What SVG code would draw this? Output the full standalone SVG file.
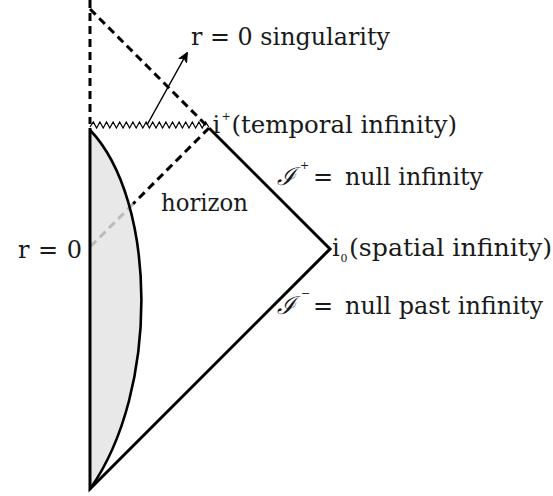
<svg xmlns="http://www.w3.org/2000/svg" width="553" height="496" viewBox="0 0 553 496">
<style>
text{font-family:"DejaVu Serif","Liberation Serif",serif;font-size:24px;fill:#1a1a1a}
.s{font-size:11px}
.solid{fill:none;stroke:#000;stroke-width:3;stroke-linejoin:miter}
.dash{fill:none;stroke:#000;stroke-width:3;stroke-dasharray:8 5}
.gdash{fill:none;stroke:#bbb;stroke-width:3;stroke-dasharray:8 5}
.scr{font-style:italic;font-size:25px}
</style>
<defs>
<marker id="ah" viewBox="0 0 10 10" refX="9" refY="5" markerWidth="10" markerHeight="10" markerUnits="userSpaceOnUse" orient="auto">
<path d="M0,0.5 L10,5 L0,9.5 L3,5 Z" fill="#000" stroke="#000" stroke-width="0.8" stroke-linejoin="round"/>
</marker>
</defs>
<g id="region">
<path d="M90,130 C157,200 160,390 90,489 Z" fill="#e8e8e8" stroke="none"/>
</g>
<g id="connectors">
<line class="dash" x1="90" y1="0" x2="90" y2="124"/>
<line class="dash" x1="90" y1="9" x2="209" y2="128"/>
<line class="dash" x1="209" y1="128" x2="133" y2="204"/>
<line class="gdash" x1="133" y1="204" x2="90" y2="247"/>
<path class="solid" d="M90,128 L90,489 L330,249 L209,128"/>
<path d="M90,130 C157,200 160,390 90,489" fill="none" stroke="#000" stroke-width="2.6"/>
<polyline fill="none" stroke="#000" stroke-width="1.2" points="90,127 93.3,122 96.6,128 99.9,122 103.2,128 106.5,122 109.8,128 113.1,122 116.4,128 119.7,122 123,128 126.3,122 129.6,128 132.9,122 136.2,128 139.5,122 142.8,128 146.1,122 149.4,128 152.7,122 156,128 159.3,122 162.6,128 165.9,122 169.2,128 172.5,122 175.8,128 179.1,122 182.4,128 185.7,122 189,128 192.3,122 195.6,128 198.9,122 202.2,128 205.5,122 208.8,127"/>
<line x1="147" y1="125" x2="187" y2="53" stroke="#000" stroke-width="1.5" marker-end="url(#ah)"/>
</g>
<g id="label-singularity">
<text x="191" y="45" textLength="199" lengthAdjust="spacingAndGlyphs">r = 0 singularity</text>
</g>
<g id="label-iplus">
<text x="212.5" y="133">i</text>
<text class="s" x="221.5" y="120">+</text>
<text x="231.5" y="133" textLength="225.5" lengthAdjust="spacingAndGlyphs">(temporal infinity)</text>
</g>
<g id="label-scri-plus">
<text class="scr" x="277" y="185">ℐ</text>
<text class="s" x="300" y="169">+</text>
<text x="313" y="185">=</text>
<text x="345" y="185" textLength="138" lengthAdjust="spacingAndGlyphs">null infinity</text>
</g>
<g id="label-horizon">
<text x="161" y="211" textLength="87" lengthAdjust="spacingAndGlyphs">horizon</text>
</g>
<g id="label-r0">
<text x="18" y="258" textLength="64" lengthAdjust="spacing">r = 0</text>
</g>
<g id="label-i0">
<text x="332" y="256">i</text>
<text class="s" x="340.5" y="262">0</text>
<text x="349" y="256" textLength="203" lengthAdjust="spacingAndGlyphs">(spatial infinity)</text>
</g>
<g id="label-scri-minus">
<text class="scr" x="277" y="314">ℐ</text>
<text class="s" x="301" y="297">−</text>
<text x="313" y="314">=</text>
<text x="345" y="314" textLength="198" lengthAdjust="spacingAndGlyphs">null past infinity</text>
</g>
</svg>
